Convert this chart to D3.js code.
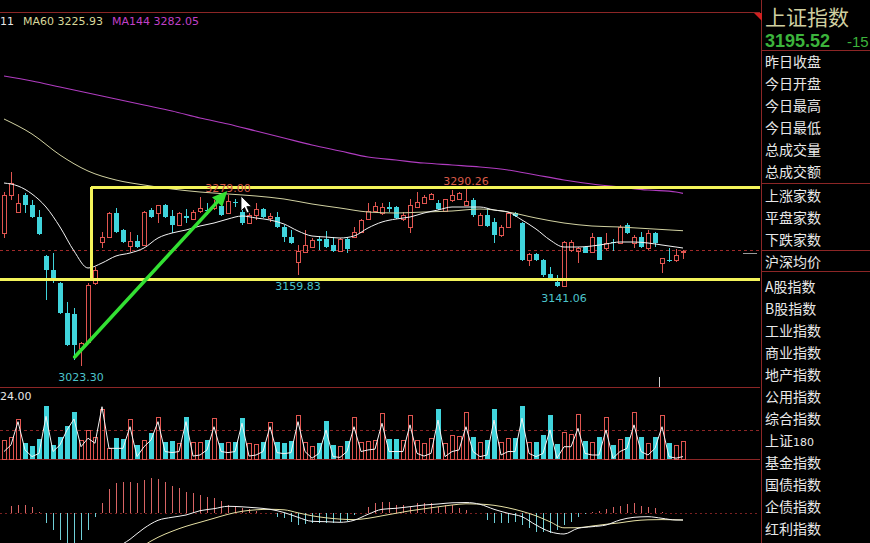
<!DOCTYPE html>
<html><head><meta charset="utf-8">
<script src="https://cdn.jsdelivr.net/npm/d3@7/dist/d3.min.js"></script>
<style>
html,body{margin:0;padding:0;background:#000;overflow:hidden}
svg{display:block}
</style></head><body>
<svg id="c" width="870" height="543"></svg>
<script>
// ---------------- DATA ----------------
const opens=[3222.5,3279.5,3254,3279.5,3264.5,3246.5,3188,3167,3147.5,3102.5,
3101,3050,3059,3147.5,3209,3216.5,3252.5,3227,3203,3210.5,
3204.5,3257,3252.5,3264.5,3248,3234.5,3248,3243.5,3255.5,3257,
3260,3263,3252.5,3269,3254,3237.5,3249.5,3258.5,3245,3246.5,
3231.5,3216.5,3179,3194,3201.5,3213.5,3213.5,3204.5,3195.5,3213.5,
3216.5,3224,3243.5,3255.5,3252.5,3261.5,3261.5,3243.5,3231.5,3261.5,
3267.5,3273.5,3267.5,3255.5,3272,3273.5,3264.5,3272,3234.5,3249.5,
3239,3219.5,3231.5,3252.5,3237.5,3182,3191,3182,3161,3149,
3143,3197,3195.5,3201.5,3194,3216.5,3200,3209,3207.5,3234.5,
3207.5,3216.5,3200,3222.5,3177.5,3182,3182,3194.5];
const closes=[3279.5,3297.5,3267.5,3264.5,3246.5,3221,3167,3152,3102.5,3054.5,
3054.5,3057.5,3144.5,3167,3216.5,3252.5,3224,3209,3210.5,3201.5,
3254,3246.5,3264.5,3246.5,3234.5,3252.5,3245,3254,3260,3255.5,
3264.5,3249.5,3270.5,3267.5,3237.5,3249.5,3258.5,3246.5,3248,3231.5,
3216.5,3207.5,3195.5,3204.5,3212,3210.5,3201.5,3195.5,3213.5,3198.5,
3224,3242,3255.5,3263,3261.5,3258.5,3245,3249.5,3264.5,3269,
3276.5,3281,3258.5,3273.5,3279.5,3282.5,3270.5,3249.5,3249.5,3233,
3219.5,3231.5,3252.5,3248,3182,3191,3182,3159.5,3155,3143,
3209,3209,3200,3192.5,3216.5,3182,3207.5,3207.5,3231.5,3222.5,
3216.5,3201.5,3222.5,3207.5,3185,3180.5,3189.5,3195.52];
const highs=[3284,3314,3281,3282.5,3272,3257,3189.5,3192.5,3149,3119,
3110,3059,3147.5,3171.5,3224,3254,3260,3228,3224,3219.5,
3255,3260,3265,3265.5,3257,3253.5,3258.5,3257,3276.5,3267.5,
3272,3269,3279.00,3273.5,3257,3252.5,3267.5,3260,3252.5,3254,
3234.5,3227,3204.5,3227,3215,3218,3225.5,3216.5,3215,3216.5,
3231.5,3243,3267.5,3269,3267.5,3269,3262.5,3254,3273.5,3284,
3279.5,3282.5,3272,3274,3287,3283.5,3290.26,3275,3252.5,3260,
3245,3234.5,3254,3254,3239,3192.5,3192.5,3183,3171.5,3159.5,
3210,3212,3201.5,3203,3222.5,3217,3222.5,3213.5,3234.5,3237.5,
3219.5,3224,3227,3224,3185.5,3200,3198.5,3197];
const lows=[3215,3272,3252.5,3252.5,3245,3219.5,3122,3147.5,3101,3053,
3032,3023.30,3057,3144.5,3200,3215,3223,3207.5,3194,3200.5,
3203.5,3245,3237.5,3245,3222.5,3233.5,3237.5,3242,3252.5,3249.5,
3257,3248.5,3252,3261.5,3234.5,3236,3242,3245,3239,3230.5,
3209,3206.5,3159.83,3192.5,3200,3197,3200.5,3194.5,3194,3192.5,
3215,3222.5,3242,3254,3249.5,3254,3243.5,3240.5,3222.5,3260.5,
3266.5,3272,3257,3254,3269,3272,3263.5,3246.5,3233,3231.5,
3207.5,3216.5,3230.5,3246.5,3181,3173,3181,3156.5,3152,3142,
3141.06,3194,3177.5,3192,3192.5,3181.5,3197,3195.5,3207,3221,
3200,3200,3197,3201.5,3162.5,3179,3179,3183.5];

// moving averages (fast MA every 2 bars, MA60/MA144 every 4 bars, last bar = 97)
const maFast=[3297.5,3293,3281,3261.5,3231.5,3195.5,3170,3177.5,3188,3192.5,
3200,3215,3222.5,3227,3233,3237.5,3243.5,3248,3245,3242,
3236,3225.5,3218,3216.5,3215,3218,3230,3239,3243.5,3246.5,
3252.5,3257,3261.5,3261.5,3261.5,3257,3254,3242,3228.5,3212,
3201.5,3201.5,3203,3206,3209,3209,3207.5,3204.5,3201.5,3200];
const ma60=[3393.5,3371,3339.5,3315.5,3302,3294.5,3288.5,3284,3281,3278,3273.5,3266,3260,
3254,3252.5,3254,3255.5,3258.5,3254,3245,3237.5,3233,3231.5,3229,3226.5,3225.93];
const ma144=[3458,3450.5,3441.5,3432.5,3423.5,3414.5,3405.5,3395,3386,3375.5,3365,3354.5,3345.5,
3336.5,3332,3327.5,3324.5,3321.5,3317,3309.5,3302,3296,3291.5,3287,3284,3282.05];

const volumes=[7.1,8.3,15.0,6.0,4.9,7.5,19.9,5.3,8.3,12.4,
17.6,7.1,10.9,8.3,18.8,4.1,7.9,7.5,15.0,5.3,
7.1,9.8,15.8,6.4,6.8,6.0,15.8,6.4,6.4,7.1,
15.4,6.0,6.4,6.4,15.4,6.0,5.6,6.4,13.9,6.4,
6.0,6.8,16.5,6.4,4.9,6.0,14.3,5.3,4.9,6.8,
15.8,6.4,6.8,7.1,17.3,7.5,7.5,7.1,16.5,7.1,
6.0,7.9,18.8,6.0,9.0,8.6,17.6,8.3,6.4,7.1,
18.8,6.4,7.9,7.9,19.9,6.4,6.4,9.0,16.5,5.6,
10.1,9.4,16.9,6.8,6.4,8.3,15.8,5.3,7.5,8.3,
17.6,8.3,6.0,8.3,16.5,6.0,5.3,6.8];
const volLine=[2.8,5.3,14.0,3.4,0.9,2.1,16,2.8,5.3,10.9,
15,4.6,7.8,5.9,19.6,4.0,4.0,4.0,12.1,0.9,
4.6,7.1,14.0,2.8,2.4,2.8,14.0,1.1,1.5,3.4,
12.1,2.8,2.4,2.8,13.4,1.1,1.5,2.8,12.1,2.4,
2.0,2.4,14.0,2.8,0.3,2.1,10.9,0.9,0.6,2.8,
12.1,2.8,3.4,3.7,13.4,2.8,2.8,2.8,12.8,2.1,
1.1,2.1,14.6,0.9,2.8,3.4,12.1,2.8,0.9,1.5,
14.6,1.5,2.8,2.8,15.3,2.1,0.9,2.1,10.9,0.3,
4.6,4.6,11.5,2.1,1.5,1.5,10.9,0.3,2.8,4.0,
12.8,2.8,1.5,4.0,12.1,0.9,0.3,0.9];
const volLabel="24.00";

const macdHist=[0.3,7.7,8.3,8.3,6,1.7,-10,-16.7,-26.7,-29.3,
-29.3,-26.7,-16.7,-4,10.7,24,30.7,31.7,31.7,30,
33.3,35,34.3,31.7,27.3,25,21.7,20.7,18.3,16,
15,12.7,8.3,6.7,5,4,2.7,0.7,0.5,-3.3,
-5,-8.3,-11.7,-10.7,-10,-9.3,-9.3,-9.3,-8.3,-7.3,
-1.7,0.7,6.7,10.3,11.7,11.7,8.3,8.3,6.7,10,
10,10,6.7,8.3,8.3,5,3.3,0.7,0.3,-6.7,
-10,-10,-10,-8.3,-11.7,-15,-18.3,-18.3,-19.3,-16.7,
-11.7,-8.3,-3.3,-0.7,1.7,2.7,4,6,7.3,9.3,
10,7.3,6.7,5,1.7,0.7,0.3,0.5];
const dif=[-45,-46,-48,-55,-62,-68,-66,-55,-36,-26,-15,-7,-4,-1.7,2.6,4.6,7,6.5,5.5,4,
0.8,-4,-8,-8.4,-9,-7,-1,4,5,6.6,8.3,9.3,10.5,10.8,9,4,0,-3.4,-11.7,-18.4,
-20.7,-15,-13.4,-11.7,-6.7,-4,-3.4,-5,-6.7,-6.7];
const dea=[-50,-51,-52,-53,-55,-57,-59,-60,-52,-42,-32,-24,-18,-13,-9,-5,-1,2,3.5,4,
3.5,0.5,-2.5,-4.5,-5.8,-6.3,-5,-2.5,0,2.5,4.5,6.5,8.3,9.5,9.2,8,5.5,2,-2.5,-8.5,
-14.5,-14.4,-12.7,-11,-9.5,-7.5,-6.5,-6.3,-6.5,-6.7];

const legendItems=[{t:"11",c:"#e6e6e6"},{t:"MA60 3225.93",c:"#d8d89a"},{t:"MA144 3282.05",c:"#c040c8"}];
const highMarks=[32,66];       // bar indices with high labels
const lowMarks=[11,42,80];     // bar indices with low labels
const refLevel=3197;           // dashed reference line
const boxTop=3291, boxBottom=3153.5, boxStart=13;
const arrowFrom=[10.1,3036.5], arrowTo=[31.9,3285.5];

const panelTitle="上证指数", panelPrice="3195.52", panelChg="-15";
const rowsA=["昨日收盘","今日开盘","今日最高","今日最低","总成交量","总成交额"];
const rowsB=["上涨家数","平盘家数","下跌家数"];
const rowsC=["沪深均价"];
const rowsD=["A股指数","B股指数","工业指数","商业指数","地产指数","公用指数","综合指数","上证180","基金指数","国债指数","企债指数","红利指数"];

// ---------------- DRAW ----------------
const RED="#e05550", CYAN="#40d4dc", GRID="#8c2626";
const svg=d3.select("#c");
svg.append("rect").attr("width",870).attr("height",543).attr("fill","#000");
const defs=svg.append("defs");
defs.append("clipPath").attr("id","cm").append("rect").attr("x",0).attr("y",12.5).attr("width",759).attr("height",374);
defs.append("clipPath").attr("id","cd").append("rect").attr("x",0).attr("y",460).attr("width",759).attr("height",83);

const n=opens.length;
const x=d3.scaleLinear().domain([0,n-1]).range([4,683]);
const y=d3.scaleLinear().domain([2991.5,3554]).range([387,12]);
const yv=d3.scaleLinear().domain([0,24]).range([459,395]);
const ym=d3.scaleLinear().domain([-30,30]).range([543.3,483.3]);

const idx2=d3.range(0,n-1,2).concat([n-1]);
const idx4=d3.range(0,n-1,4).concat([n-1]);

// grid / frame
const g0=svg.append("g").attr("shape-rendering","crispEdges");
[[12.5,0,760],[387.5,0,760],[459.5,0,760]].forEach(([yy,a,b])=>g0.append("line").attr("x1",a).attr("x2",b).attr("y1",yy).attr("y2",yy).attr("stroke",GRID));
g0.append("line").attr("x1",0).attr("x2",760).attr("y1",Math.round(y(refLevel))+0.5).attr("y2",Math.round(y(refLevel))+0.5).attr("stroke","#a02a2a").attr("stroke-dasharray","3,3");
g0.append("line").attr("x1",0).attr("x2",760).attr("y1",430.5).attr("y2",430.5).attr("stroke","#8c2626").attr("stroke-dasharray","3,3");
g0.append("line").attr("x1",0).attr("x2",760).attr("y1",Math.round(ym(0))+0.5).attr("y2",Math.round(ym(0))+0.5).attr("stroke","#7a2020").attr("stroke-dasharray","2,3");
g0.append("line").attr("x1",761.5).attr("x2",761.5).attr("y1",0).attr("y2",543).attr("stroke",GRID);
[50.5,183.5,250.5,271.5].forEach(yy=>g0.append("line").attr("x1",762).attr("x2",870).attr("y1",yy).attr("y2",yy).attr("stroke",GRID));
svg.append("polygon").attr("points","754,13 762,13 762,21").attr("fill","#d02020");

// candles
const gm=svg.append("g").attr("clip-path","url(#cm)");
const gc=gm.append("g").attr("shape-rendering","crispEdges");
for(let i=0;i<n;i++){
  const cx=Math.round(x(i)), up=closes[i]>=opens[i];
  const col=up?RED:CYAN;
  const yt=Math.round(y(Math.max(opens[i],closes[i]))), yb=Math.round(y(Math.min(opens[i],closes[i])));
  const yh=Math.round(y(highs[i])), yl=Math.round(y(lows[i]));
  if(up){
    if(yh<yt) gc.append("line").attr("x1",cx+0.5).attr("x2",cx+0.5).attr("y1",yh).attr("y2",yt).attr("stroke",col);
    if(yl>yb) gc.append("line").attr("x1",cx+0.5).attr("x2",cx+0.5).attr("y1",yb).attr("y2",yl).attr("stroke",col);
    gc.append("rect").attr("x",cx-1.5).attr("y",yt+0.5).attr("width",4).attr("height",Math.max(0,yb-yt)).attr("fill","none").attr("stroke",col);
  } else {
    gc.append("line").attr("x1",cx+0.5).attr("x2",cx+0.5).attr("y1",yh).attr("y2",yl).attr("stroke",col);
    gc.append("rect").attr("x",cx-2).attr("y",yt).attr("width",5).attr("height",Math.max(1,yb-yt)).attr("fill",col);
  }
}
// MA lines
const lineP=(idx,arr)=>d3.line().x((d,k)=>x(idx[k])).y(d=>y(d)).curve(d3.curveMonotoneX)(arr);
gm.append("path").attr("d",lineP(idx4,ma144)).attr("fill","none").attr("stroke","#b03cc0").attr("stroke-width",1.2);
gm.append("path").attr("d",lineP(idx4,ma60)).attr("fill","none").attr("stroke","#d2d2a2").attr("stroke-width",1);
gm.append("path").attr("d",lineP(idx2,maFast)).attr("fill","none").attr("stroke","#f2f2f2").attr("stroke-width",1);

// yellow box
const YEL="#f4f45a";
const gb=svg.append("g").attr("shape-rendering","crispEdges");
gb.append("line").attr("x1",x(boxStart)-4).attr("x2",760).attr("y1",y(boxTop)).attr("y2",y(boxTop)).attr("stroke",YEL).attr("stroke-width",3);
gb.append("line").attr("x1",0).attr("x2",760).attr("y1",y(boxBottom)).attr("y2",y(boxBottom)).attr("stroke",YEL).attr("stroke-width",3);
gb.append("line").attr("x1",x(boxStart)-4).attr("x2",x(boxStart)-4).attr("y1",y(boxTop)).attr("y2",y(boxBottom)).attr("stroke",YEL).attr("stroke-width",3);

// extreme labels
const NUMF="DejaVu Sans, Verdana, sans-serif";
highMarks.forEach(i=>svg.append("text").attr("x",x(i)).attr("y",y(highs[i])-3).attr("text-anchor","middle")
  .attr("font-family",NUMF).attr("font-size",11).attr("fill","#d85a48").text(highs[i].toFixed(2)));
lowMarks.forEach(i=>svg.append("text").attr("x",x(i)).attr("y",y(lows[i])+15).attr("text-anchor","middle")
  .attr("font-family",NUMF).attr("font-size",11).attr("fill","#4cc4cc").text(lows[i].toFixed(2)));

// green arrow
{
  const x1=x(arrowFrom[0]), y1=y(arrowFrom[1]), x2=x(arrowTo[0]), y2=y(arrowTo[1]);
  const dx=x2-x1, dy=y2-y1, L=Math.hypot(dx,dy), ux=dx/L, uy=dy/L;
  const hl=15, hw=7;
  const bx=x2-ux*hl, by=y2-uy*hl;
  svg.append("line").attr("x1",x1).attr("y1",y1).attr("x2",bx+ux*2).attr("y2",by+uy*2).attr("stroke","#33e033").attr("stroke-width",3.5).attr("stroke-linecap","round");
  svg.append("polygon").attr("points",[[x2,y2],[bx-uy*hw,by+ux*hw],[bx+uy*hw,by-ux*hw]].map(p=>p.join(",")).join(" ")).attr("fill","#33e033");
}
// mouse cursor
{
  const tx=241, ty=196;
  const pts=[[0,0],[0,15],[3.5,11.5],[6,17],[8.2,16],[5.8,10.6],[10.5,10.6]];
  svg.append("polygon").attr("points",pts.map(p=>[tx+p[0],ty+p[1]].join(",")).join(" ")).attr("fill","#fff").attr("stroke","#000").attr("stroke-width",0.8);
}
// small markers
svg.append("line").attr("x1",659.5).attr("x2",659.5).attr("y1",377).attr("y2",387).attr("stroke","#cfcfcf");
svg.append("line").attr("x1",743).attr("x2",757).attr("y1",253.5).attr("y2",253.5).attr("stroke","#9a9a9a");

// legend
{
  const t=svg.append("text").attr("x",0).attr("y",24.5).attr("font-family",NUMF).attr("font-size",11);
  legendItems.forEach((d,k)=>t.append("tspan").attr("fill",d.c).attr("dx",k?9:0).text(d.t));
}

// volume
const gv=svg.append("g").attr("shape-rendering","crispEdges");
for(let i=0;i<n;i++){
  const cx=Math.round(x(i)), up=closes[i]>=opens[i];
  const yt=Math.round(yv(volumes[i]));
  if(up) gv.append("rect").attr("x",cx-1.5).attr("y",yt+0.5).attr("width",4).attr("height",459-yt).attr("fill","none").attr("stroke",RED);
  else gv.append("rect").attr("x",cx-2).attr("y",yt).attr("width",5).attr("height",459-yt).attr("fill",CYAN);
}
svg.append("path").attr("d",d3.line().x((d,i)=>x(i)).y(d=>yv(d))(volLine)).attr("fill","none").attr("stroke","#f4f4f4").attr("stroke-width",1);
svg.append("text").attr("x",0).attr("y",400).attr("font-family",NUMF).attr("font-size",11).attr("fill","#e6e6e6").text(volLabel);

// MACD
const gd=svg.append("g").attr("clip-path","url(#cd)");
const gdh=gd.append("g").attr("shape-rendering","crispEdges");
const y0=Math.round(ym(0));
macdHist.forEach((v,i)=>{
  const cx=Math.round(x(i))+0.5;
  gdh.append("line").attr("x1",cx).attr("x2",cx).attr("y1",y0).attr("y2",Math.round(ym(v))).attr("stroke",v>=0?"#d86464":"#70d0d8");
});
const lineM=(arr)=>d3.line().x((d,k)=>x(idx2[k])).y(d=>ym(d)).curve(d3.curveMonotoneX)(arr);
gd.append("path").attr("d",lineM(dea)).attr("fill","none").attr("stroke","#e6e0a4").attr("stroke-width",1);
gd.append("path").attr("d",lineM(dif)).attr("fill","none").attr("stroke","#f4f4f4").attr("stroke-width",1);

// right panel
const CJK="'Noto Sans CJK SC', sans-serif";
svg.append("text").attr("x",765).attr("y",24.5).attr("font-family",CJK).attr("font-size",21).attr("fill","#cfcfa0").text(panelTitle);
svg.append("text").attr("x",765).attr("y",47).attr("font-family","'Liberation Sans', Arial, sans-serif").attr("font-weight","bold").attr("font-size",18).attr("fill","#3cb43c").text(panelPrice);
svg.append("text").attr("x",847).attr("y",47).attr("font-family","'Liberation Sans', Arial, sans-serif").attr("font-size",15).attr("fill","#3cb43c").text(panelChg);
function rows(list,y0,step){
  list.forEach((t,k)=>{
    const el=svg.append("text").attr("x",765).attr("y",y0+k*step).attr("font-family",CJK).attr("font-size",14).attr("fill","#e8e8e8");
    const m=t.match(/^(.*?)(\d+)$/);
    if(m){el.append("tspan").text(m[1]);el.append("tspan").attr("font-family",NUMF).attr("font-size",11).text(m[2]);}
    else el.text(t);
  });
}
rows(rowsA,67,22); rows(rowsB,201,22); rows(rowsC,267,22); rows(rowsD,292,22);
</script>
</body></html>
